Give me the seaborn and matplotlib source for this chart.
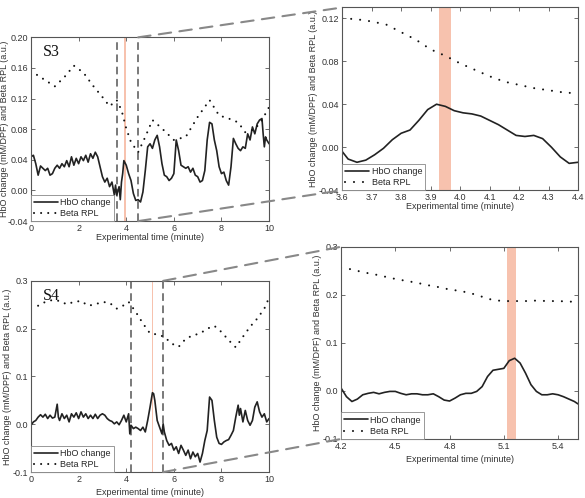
import numpy as np
import pandas as pd
import matplotlib
matplotlib.use('Agg')
import matplotlib.pyplot as plt
import seaborn as sns
from matplotlib.patches import ConnectionPatch

# ---- S3 full recording (0-10 min) ----
s3_t = [0.0, 0.1, 0.2, 0.3, 0.4, 0.5, 0.6, 0.7, 0.8, 0.9, 1.0, 1.1, 1.2, 1.3, 1.4, 1.5, 1.6, 1.7, 1.8, 1.9,
        2.0, 2.1, 2.2, 2.3, 2.4, 2.5, 2.6, 2.7, 2.8, 2.9, 3.0, 3.1, 3.2, 3.3, 3.4, 3.5, 3.55, 3.6, 3.7, 3.75,
        3.8, 3.85, 3.9, 4.0, 4.1, 4.2, 4.3, 4.4, 4.5, 4.6, 4.7, 4.8, 4.9, 5.0, 5.1, 5.2, 5.3, 5.4, 5.5, 5.6,
        5.7, 5.8, 5.9, 6.0, 6.1, 6.2, 6.3, 6.4, 6.5, 6.6, 6.7, 6.8, 6.9, 7.0, 7.1, 7.2, 7.3, 7.4, 7.5, 7.6,
        7.7, 7.8, 7.9, 8.0, 8.1, 8.2, 8.3, 8.4, 8.5, 8.6, 8.7, 8.8, 8.9, 9.0, 9.1, 9.2, 9.3, 9.4, 9.5, 9.6,
        9.7, 9.75, 9.8, 9.85, 9.9, 10.0]
s3_hbo = [0.044, 0.046, 0.035, 0.020, 0.032, 0.029, 0.026, 0.029, 0.020, 0.022, 0.029, 0.033, 0.029, 0.035,
          0.031, 0.039, 0.031, 0.044, 0.033, 0.042, 0.035, 0.044, 0.039, 0.046, 0.037, 0.048, 0.042, 0.050,
          0.044, 0.031, 0.018, 0.011, 0.016, 0.005, 0.011, -0.006, 0.007, -0.006, 0.005, -0.012, 0.011, 0.022,
          0.039, 0.033, 0.022, 0.013, -0.004, -0.013, -0.012, -0.015, -0.002, 0.026, 0.057, 0.061, 0.055,
          0.066, 0.072, 0.057, 0.035, 0.020, 0.018, 0.013, 0.016, 0.022, 0.066, 0.052, 0.033, 0.031, 0.029,
          0.031, 0.024, 0.029, 0.020, 0.018, 0.011, 0.013, 0.026, 0.066, 0.089, 0.087, 0.066, 0.052, 0.031,
          0.022, 0.024, 0.013, 0.007, 0.031, 0.068, 0.061, 0.055, 0.052, 0.057, 0.055, 0.074, 0.066, 0.083,
          0.074, 0.087, 0.092, 0.094, 0.074, 0.057, 0.070, 0.066, 0.061]
s3_beta_t = [0.0, 0.5, 1.0, 1.4, 1.8, 2.2, 2.6, 3.0, 3.3, 3.6, 3.8, 4.0, 4.2, 4.5, 4.8, 5.1, 5.5, 6.0, 6.5,
             7.0, 7.5, 7.9, 8.3, 8.7, 9.0, 9.4, 9.7, 10.0]
s3_beta = [0.156, 0.146, 0.136, 0.148, 0.163, 0.154, 0.137, 0.122, 0.110, 0.118, 0.105, 0.081, 0.063, 0.050,
           0.070, 0.092, 0.081, 0.066, 0.070, 0.096, 0.118, 0.098, 0.094, 0.089, 0.076, 0.080, 0.092, 0.109]

# ---- S3 zoom (3.6-4.4 min) ----
s3z_t = [3.60, 3.62, 3.65, 3.68, 3.71, 3.74, 3.77, 3.80, 3.83, 3.86, 3.89, 3.92, 3.95, 3.98, 4.01, 4.04,
         4.07, 4.10, 4.13, 4.16, 4.19, 4.22, 4.25, 4.28, 4.31, 4.34, 4.37, 4.40]
s3z_hbo = [-0.004, -0.011, -0.014, -0.012, -0.007, -0.001, 0.007, 0.013, 0.016, 0.025, 0.035, 0.040, 0.038,
           0.034, 0.032, 0.031, 0.029, 0.025, 0.021, 0.016, 0.011, 0.010, 0.011, 0.008, 0.000, -0.009,
           -0.015, -0.014]
s3z_beta_t = [3.60, 3.65, 3.70, 3.75, 3.80, 3.85, 3.90, 3.95, 4.00, 4.05, 4.10, 4.15, 4.20, 4.25, 4.30, 4.35, 4.40]
s3z_beta = [0.120, 0.119, 0.117, 0.114, 0.107, 0.100, 0.091, 0.085, 0.078, 0.072, 0.066, 0.061, 0.058, 0.055,
            0.053, 0.051, 0.050]

# ---- S4 full recording (0-10 min) ----
s4_t = [0.0, 0.1, 0.2, 0.3, 0.4, 0.5, 0.6, 0.7, 0.8, 0.9, 1.0, 1.1, 1.15, 1.2, 1.3, 1.4, 1.5, 1.6, 1.7, 1.8,
        1.9, 2.0, 2.1, 2.2, 2.3, 2.4, 2.5, 2.6, 2.7, 2.8, 2.9, 3.0, 3.1, 3.2, 3.3, 3.4, 3.5, 3.6, 3.7, 3.8,
        3.9, 4.0, 4.1, 4.15, 4.2, 4.3, 4.4, 4.5, 4.6, 4.7, 4.8, 4.9, 5.0, 5.1, 5.15, 5.2, 5.3, 5.4, 5.5, 5.55,
        5.6, 5.7, 5.8, 5.9, 6.0, 6.1, 6.2, 6.3, 6.4, 6.5, 6.6, 6.7, 6.8, 6.9, 7.0, 7.1, 7.2, 7.3, 7.4, 7.5,
        7.6, 7.7, 7.8, 7.9, 8.0, 8.1, 8.2, 8.3, 8.4, 8.5, 8.6, 8.7, 8.75, 8.8, 8.9, 9.0, 9.1, 9.2, 9.3, 9.4,
        9.5, 9.6, 9.7, 9.8, 9.9, 10.0]
s4_hbo = [-0.002, 0.005, 0.008, 0.015, 0.020, 0.015, 0.021, 0.012, 0.019, 0.013, 0.015, 0.042, 0.015, 0.008,
          0.022, 0.012, 0.019, 0.005, 0.022, 0.015, 0.024, 0.012, 0.026, 0.015, 0.022, 0.012, 0.019, 0.012,
          0.021, 0.012, 0.019, 0.022, 0.019, 0.012, 0.008, 0.006, 0.001, 0.005, -0.001, 0.008, 0.019, 0.005,
          0.022, -0.020, -0.002, -0.009, -0.006, -0.009, -0.013, -0.006, -0.016, 0.008, 0.036, 0.066, 0.064,
          0.050, 0.008, -0.006, -0.020, 0.001, -0.016, -0.034, -0.044, -0.040, -0.054, -0.047, -0.061, -0.044,
          -0.054, -0.065, -0.054, -0.072, -0.058, -0.068, -0.061, -0.079, -0.061, -0.034, -0.013, 0.057,
          0.050, 0.008, -0.027, -0.040, -0.042, -0.037, -0.034, -0.032, -0.023, -0.013, 0.015, 0.040, 0.019,
          0.033, 0.005, 0.029, 0.008, -0.002, 0.008, 0.036, 0.047, 0.026, 0.015, 0.022, 0.005, 0.012]
s4_beta_t = [0.0, 0.3, 0.6, 0.9, 1.2, 1.5, 1.8, 2.1, 2.4, 2.7, 3.0, 3.3, 3.6, 3.9, 4.1, 4.4, 4.7, 5.0, 5.3,
             5.6, 5.9, 6.2, 6.5, 6.8, 7.1, 7.4, 7.7, 8.0, 8.3, 8.6, 8.9, 9.2, 9.5, 9.8, 10.0]
s4_beta = [0.249, 0.248, 0.256, 0.260, 0.258, 0.251, 0.256, 0.258, 0.248, 0.251, 0.256, 0.254, 0.242, 0.249,
           0.256, 0.235, 0.211, 0.190, 0.188, 0.183, 0.169, 0.162, 0.179, 0.186, 0.190, 0.200, 0.206, 0.193,
           0.176, 0.161, 0.183, 0.204, 0.221, 0.242, 0.265]

# ---- S4 zoom (4.2-5.5 min) ----
s4z_t = [4.20, 4.23, 4.26, 4.29, 4.32, 4.35, 4.38, 4.41, 4.44, 4.47, 4.50, 4.53, 4.56, 4.59, 4.62, 4.65,
         4.68, 4.71, 4.74, 4.77, 4.80, 4.83, 4.86, 4.89, 4.92, 4.95, 4.98, 5.01, 5.04, 5.07, 5.10, 5.13,
         5.16, 5.19, 5.22, 5.25, 5.28, 5.31, 5.34, 5.37, 5.40, 5.43, 5.46, 5.49, 5.51]
s4z_hbo = [0.006, -0.012, -0.022, -0.017, -0.008, -0.005, -0.003, -0.006, -0.003, -0.001, -0.001, -0.005,
           -0.008, -0.006, -0.006, -0.008, -0.008, -0.006, -0.012, -0.019, -0.021, -0.015, -0.008, -0.005,
           -0.005, -0.001, 0.009, 0.030, 0.043, 0.045, 0.047, 0.063, 0.068, 0.058, 0.037, 0.013, -0.001,
           -0.008, -0.008, -0.006, -0.008, -0.012, -0.017, -0.022, -0.027]
s4z_beta_t = [4.20, 4.26, 4.32, 4.38, 4.44, 4.50, 4.56, 4.62, 4.68, 4.74, 4.80, 4.86, 4.92, 4.98, 5.04,
              5.10, 5.16, 5.22, 5.28, 5.34, 5.40, 5.46, 5.51]
s4z_beta = [0.256, 0.253, 0.247, 0.243, 0.238, 0.233, 0.229, 0.225, 0.220, 0.216, 0.211, 0.208, 0.203, 0.196,
            0.189, 0.187, 0.187, 0.187, 0.188, 0.187, 0.187, 0.186, 0.185]

XLABEL = 'Experimental time (minute)'
YLABEL = 'HbO change (mM/DPF) and Beta RPL (a.u.)'
BAND = '#f7c2ae'
FS = 6.5

sns.set_style('ticks')
plt.rcParams['font.family'] = ['Liberation Sans', 'DejaVu Sans']
plt.rcParams['axes.edgecolor'] = '#555555'
plt.rcParams['axes.linewidth'] = 0.8
plt.rcParams['xtick.color'] = '#555555'
plt.rcParams['ytick.color'] = '#555555'
plt.rcParams['xtick.labelcolor'] = '#333333'
plt.rcParams['ytick.labelcolor'] = '#333333'

fig = plt.figure(figsize=(5.85, 4.98), dpi=100)
ax1 = fig.add_axes([0.053, 0.556, 0.407, 0.369])
ax2 = fig.add_axes([0.585, 0.618, 0.403, 0.367])
ax3 = fig.add_axes([0.053, 0.052, 0.407, 0.384])
ax4 = fig.add_axes([0.583, 0.1185, 0.405, 0.386])


def draw(ax, t, hbo, bt, beta, xlim, ylim, xticks, yticks, yfmt, dots, xpad, ypad):
    sns.lineplot(x=t, y=hbo, ax=ax, color='#222222', lw=1.2, label='HbO change')
    sns.lineplot(x=bt, y=beta, ax=ax, color='#111111', lw=1.5, linestyle=(0, dots),
                 dash_capstyle='round', label='Beta RPL')
    ax.set_xlim(*xlim)
    ax.set_ylim(*ylim)
    ax.set_xticks(xticks)
    ax.set_yticks(yticks)
    ax.set_yticklabels([yfmt.format(v) for v in yticks])
    ax.tick_params(direction='in', top=True, right=True, length=3, width=0.6, labelsize=FS, pad=2)
    ax.set_xlabel(XLABEL, fontsize=FS, labelpad=xpad, color='#333333')
    ax.set_ylabel(YLABEL, fontsize=FS, labelpad=ypad, color='#333333')
    leg = ax.legend(loc='lower left', borderaxespad=0, fontsize=FS, handlelength=2.6,
                    fancybox=False, framealpha=1, edgecolor='#888888', borderpad=0.35,
                    labelspacing=0.25, handletextpad=0.3)
    leg.get_frame().set_linewidth(0.6)


draw(ax1, s3_t, s3_hbo, s3_beta_t, s3_beta, (0, 10), (-0.04, 0.20), [0, 2, 4, 6, 8, 10],
     [-0.04, 0.00, 0.04, 0.08, 0.12, 0.16, 0.20], '{:.2f}', (0.01, 3.4), 0, -1.2)
draw(ax2, s3z_t, s3z_hbo, s3z_beta_t, s3z_beta, (3.6, 4.4), (-0.04, 0.13),
     [3.6, 3.7, 3.8, 3.9, 4.0, 4.1, 4.2, 4.3, 4.4], [-0.04, 0.00, 0.04, 0.08, 0.12], '{:.2f}', (0.01, 4.3), 0, 0.5)
draw(ax3, s4_t, s4_hbo, s4_beta_t, s4_beta, (0, 10), (-0.1, 0.3), [0, 2, 4, 6, 8, 10],
     [-0.1, 0.0, 0.1, 0.2, 0.3], '{:.1f}', (0.01, 3.4), 3, 0.5)
draw(ax4, s4z_t, s4z_hbo, s4z_beta_t, s4z_beta, (4.2, 5.51), (-0.1, 0.3), [4.2, 4.5, 4.8, 5.1, 5.4],
     [-0.1, 0.0, 0.1, 0.2, 0.3], '{:.1f}', (0.01, 4.3), 3, 0.5)

# stimulus bands
ax1.axvspan(3.89, 3.99, color=BAND, lw=0, zorder=0.5)
ax2.axvspan(3.93, 3.97, color=BAND, lw=0, zorder=0.5)
ax3.axvspan(5.08, 5.14, color=BAND, lw=0, zorder=0.5)
ax4.axvspan(5.12, 5.17, color=BAND, lw=0, zorder=0.5)

# zoom windows
for ax, (a, b) in [(ax1, (3.6, 4.5)), (ax3, (4.2, 5.55))]:
    for x in (a, b):
        ax.axvline(x, color='#555555', lw=1.1, dashes=(5, 3), zorder=1)

ax1.text(0.05, 0.965, 'S3', transform=ax1.transAxes, ha='left', va='top', fontsize=11.5,
         family='Liberation Serif', color='#111111')
ax3.text(0.05, 0.965, 'S4', transform=ax3.transAxes, ha='left', va='top', fontsize=11.5,
         family='Liberation Serif', color='#111111')

# connectors to zoom panels
for src, dst, xr, yl in [(ax1, ax2, 4.5, (-0.04, 0.20)), (ax3, ax4, 5.55, (-0.1, 0.3))]:
    for yv, yf in [(yl[1], 1), (yl[0], 0)]:
        con = ConnectionPatch(xyA=(xr, yv), coordsA=src.transData, xyB=(0, yf), coordsB=dst.transAxes,
                              color='#888888', lw=1.5, linestyle=(0, (6, 4)))
        fig.add_artist(con)

fig.savefig('out.png', dpi=100)
